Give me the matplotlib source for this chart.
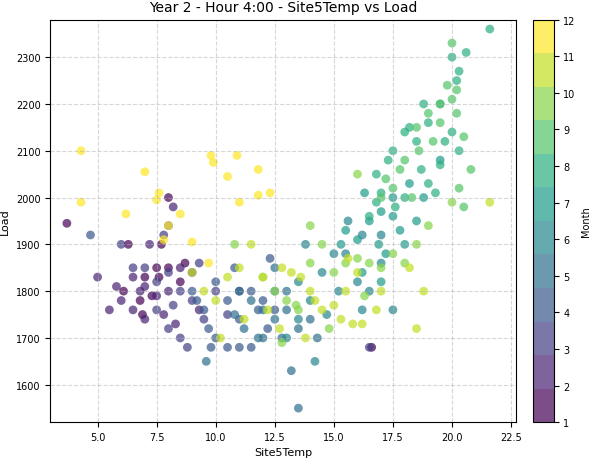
import matplotlib
matplotlib.use("Agg")
import matplotlib.pyplot as plt

m12 = [(4.3,2100),(4.3,1990),(6.2,1965),(7,2055),(7.5,1995),(7.8,1910),(8,1940),(8.5,1965),(9,1905),(9.8,2090),(9.9,2075),(10.5,2045),(10.9,2090),(11,1990),(11.8,2060),(11.8,2005),(12.3,2010),(9.7,1860),(7.6,2010)]
m11 = [(9,1840),(9.5,1800),(10,1780),(10.5,1830),(11,1850),(11.5,1900),(12,1830),(12.8,1850),(13.2,1840),(13.6,1830),(14,1800),(14.5,1760),(15,1770),(15.3,1740),(15.8,1730),(16.2,1730),(16.8,1760),(18.5,1720),(18.8,1800),(18.2,1850),(21.6,1990),(10.2,1700),(11.2,1740),(12.7,1720),(13.8,1700),(14.2,1780),(15.5,1800),(16,1840),(17,1800),(15.6,1870),(12.2,1760)]
m10 = [(10.8,1900),(12,1830),(12.5,1800),(13,1780),(13.5,1760),(14,1860),(14.5,1900),(15,1840),(15.5,1860),(16,1870),(16.5,1860),(17,1850),(17.5,1880),(18,1860),(18.5,1900),(19,1940),(20,1990),(16,2050),(14,1940),(13.4,1770),(12.8,1690),(14.8,1720),(16.3,1790)]
m9 = [(17,2000),(17.5,2020),(18,2080),(18.5,2150),(19,2180),(19.5,2200),(20,2210),(20.2,2180),(20.5,2130),(20.8,2060),(19.8,2240),(20.2,2230),(18.6,2100),(17.8,2060),(19.2,2120),(20.3,2020),(20.5,1980),(18.3,2000),(17.2,2040),(20,2330),(19.5,2160)]
m8 = [(17,2010),(17.5,2100),(18,2140),(18.5,2120),(19,2160),(19.5,2200),(20,2300),(20.3,2270),(20.6,2310),(21.6,2360),(20.2,2250),(19,2030),(18.7,2060),(18,2000),(17.6,1980),(16.8,1990),(18.2,2150),(19.7,2120),(20.3,2100),(19.3,2010),(16.5,1960),(16.8,2050),(17.3,2080),(18.8,2200),(19.5,2070),(20,2140)]
m7 = [(15.5,1930),(16,1910),(16.5,1950),(17,1970),(17.5,1960),(18,1900),(18.5,1950),(17.2,1880),(16.2,1840),(17,1820),(17.8,1930),(18.8,2000),(16.3,2010),(19.5,2080),(16.9,1900),(17.5,2000),(15.3,1900),(18.2,2030)]
m6 = [(13.5,1820),(14,1780),(14.5,1840),(15,1880),(15.5,1880),(16,1820),(16.5,1800),(17,1860),(14.7,1750),(15.2,1800),(16.2,1760),(17.5,1760),(13.5,1740),(14.2,1650),(13,1700),(16.2,1920),(15.6,1950),(17,1920),(13.8,1900),(12.5,1800)]
m5 = [(11,1800),(11.5,1780),(12,1760),(12.5,1740),(13,1760),(13.5,1720),(12.8,1700),(11.8,1700),(13.2,1630),(13.5,1550),(11.2,1720),(14,1740),(13,1800),(12.5,1850),(12,1700),(10.8,1750),(9.6,1650),(14.3,1700)]
m4 = [(9,1800),(9.5,1760),(10,1820),(10.5,1780),(11,1740),(11.5,1800),(12,1780),(12.5,1760),(10,1700),(10.5,1680),(11,1680),(9.7,1720),(12.2,1720),(9.2,1780),(10.8,1850),(12.3,1870),(11.5,1680),(9.8,1680),(4.7,1920),(11.8,1760)]
m3 = [(6,1900),(6.5,1850),(7,1850),(7.5,1820),(8,1840),(8.5,1800),(9,1780),(7.5,1760),(8,1720),(8.5,1700),(8.8,1680),(7.8,1920),(9.3,1860),(8.2,1770),(9.5,1740),(10.5,1750),(8,1940),(10,1800),(16.5,1680),(11,1800)]
m2 = [(5,1830),(5.8,1810),(6,1780),(6.5,1760),(7,1810),(7.5,1790),(8,1800),(8.5,1850),(9,1840),(6.5,1830),(7,1740),(7.8,1750),(8.3,1730),(7.2,1900),(8.2,1980),(6.8,1800),(5.5,1760),(9.3,1760)]
m1 = [(3.7,1945),(6.3,1900),(7,1830),(7.5,1850),(8,1850),(7.3,1790),(8.5,1820),(6.8,1780),(6.1,1800),(7.7,1900),(8,2000),(8.7,1860),(7.6,1830),(6.9,1750),(16.6,1680)]

months = [m1,m2,m3,m4,m5,m6,m7,m8,m9,m10,m11,m12]
xs, ys, cs = [], [], []
for i, pts in enumerate(months, start=1):
    for x, y in pts:
        xs.append(x); ys.append(y); cs.append(i)

fig, ax = plt.subplots(figsize=(5.92, 4.6), dpi=100)
cmap = plt.get_cmap('viridis', 12)
sc = ax.scatter(xs, ys, c=cs, cmap=cmap, vmin=1, vmax=12, s=40, alpha=0.7, edgecolors='none')
ax.set_xlim(3, 22.7)
ax.set_ylim(1520, 2380)
ax.set_xticks([5,7.5,10,12.5,15,17.5,20,22.5])
ax.grid(True, linestyle='--', alpha=0.5)
ax.set_title('Year 2 - Hour 4:00 - Site5Temp vs Load', fontsize=10)
ax.set_xlabel('Site5Temp', fontsize=8)
ax.set_ylabel('Load', fontsize=8)
ax.tick_params(labelsize=7)
cb = fig.colorbar(sc, ax=ax, ticks=range(1,13), fraction=0.04, pad=0.035)
cb.set_label('Month', fontsize=7)
cb.ax.tick_params(labelsize=7)
fig.subplots_adjust(left=0.085, right=0.935, top=0.955, bottom=0.08)
fig.savefig('out.png')
